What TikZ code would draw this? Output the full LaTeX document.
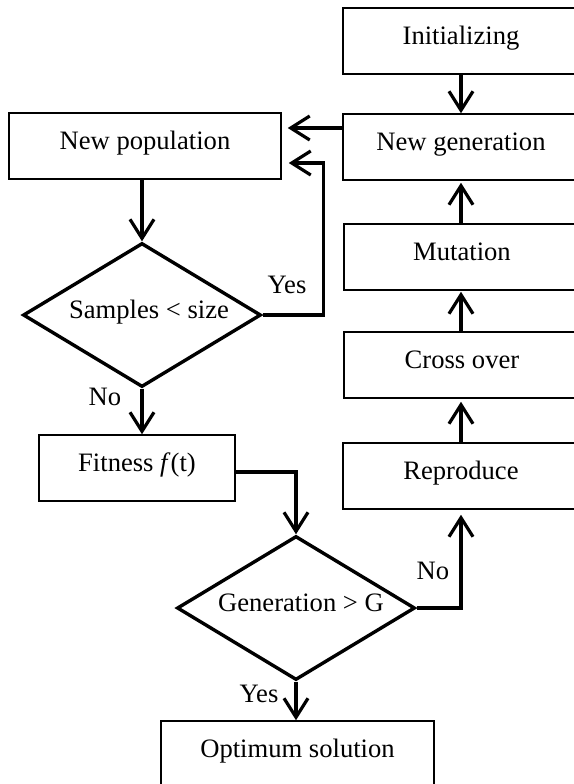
\documentclass[tikz,border=0pt]{standalone}
\usepackage{fontspec}
\setmainfont{Liberation Serif}
\usepackage{tikz}
\usetikzlibrary{arrows.meta}
\usetikzlibrary{shapes,shapes.geometric}
\tikzset{>=stealth}
\tikzset{
  stepbox/.style={draw, line width=0.75pt, rectangle, inner sep=0pt,
    minimum width=118pt, minimum height=33pt, text height=0.7em, text depth=0.32em},
  decision/.style={draw, line width=1.7pt, diamond, aspect=1.65, inner sep=0pt,
    minimum width=119pt, minimum height=72pt, text height=0.7em, text depth=0.32em},
  answer/.style={inner sep=0pt, text height=0.7em, text depth=0.32em},
  flow/.style={-{Straight Barb[length=9.5pt,width=12pt]}, line width=1.6pt}
}

\begin{document}
\begin{tikzpicture}[x=0.5pt, y=-0.5pt, font=\fontsize{13.3pt}{15pt}\selectfont]
      \useasboundingbox (0,0) rectangle (574,784);
      \clip (0,0) rectangle (574,784);
      \node[stepbox] (init) at (461,41) {Initializing};
      \node[stepbox] (newgen) at (461,147) {New generation};
      \node[stepbox] (mutation) at (462,257) {Mutation};
      \node[stepbox] (crossover) at (462,365) {Cross over};
      \node[stepbox] (reproduce) at (461,476) {Reproduce};
      \node[stepbox, minimum width=136pt] (newpop) at (145,146) {New population};
      \node[decision] (samples) at (142,315) {\hspace{7pt}Samples < size};
      \node[stepbox, minimum width=98pt] (fitness) at (137,468) {Fitness \textit{f}(t)};
      \node[decision] (gencheck) at (296,608) {\hspace{5pt}Generation > G};
      \node[stepbox, minimum width=136.5pt] (optimum) at (297.5,754) {Optimum solution};
      \node[answer] (yesone) at (287,290) {Yes};
      \node[answer] (noone) at (105,402) {No};
      \node[answer] (notwo) at (433,576) {No};
      \node[answer] (yestwo) at (259,699) {Yes};
      \draw[flow] (init) -- (newgen);
      \draw[flow, shorten >=3pt] ([yshift=9.5pt]newgen.west) -- ([yshift=9.5pt]newgen.west -| newpop.east);
      \draw[flow, shorten >=3.5pt] (samples.east) -- ++(61,0) |- ([yshift=-8.5pt]newpop.east);
      \draw[flow] (newpop.south -| samples.north) -- (samples.north);
      \draw[flow] (samples.south) -- (samples.south |- fitness.north);
      \draw[flow] ([yshift=-2pt]fitness.east) -| (gencheck.north);
      \draw[flow] (gencheck.south) -- (gencheck.south |- optimum.north);
      \draw[flow, shorten >=2.5pt] (gencheck.east) -| (reproduce.south);
      \draw[flow, shorten >=1.5pt] (reproduce.north) -- (reproduce.north |- crossover.south);
      \draw[flow, shorten >=0.5pt] (crossover.north -| reproduce.north) -- (reproduce.north |- mutation.south);
      \draw[flow, shorten >=1pt] (mutation.north -| newgen.south) -- (newgen.south);
    \end{tikzpicture}
\end{document}
